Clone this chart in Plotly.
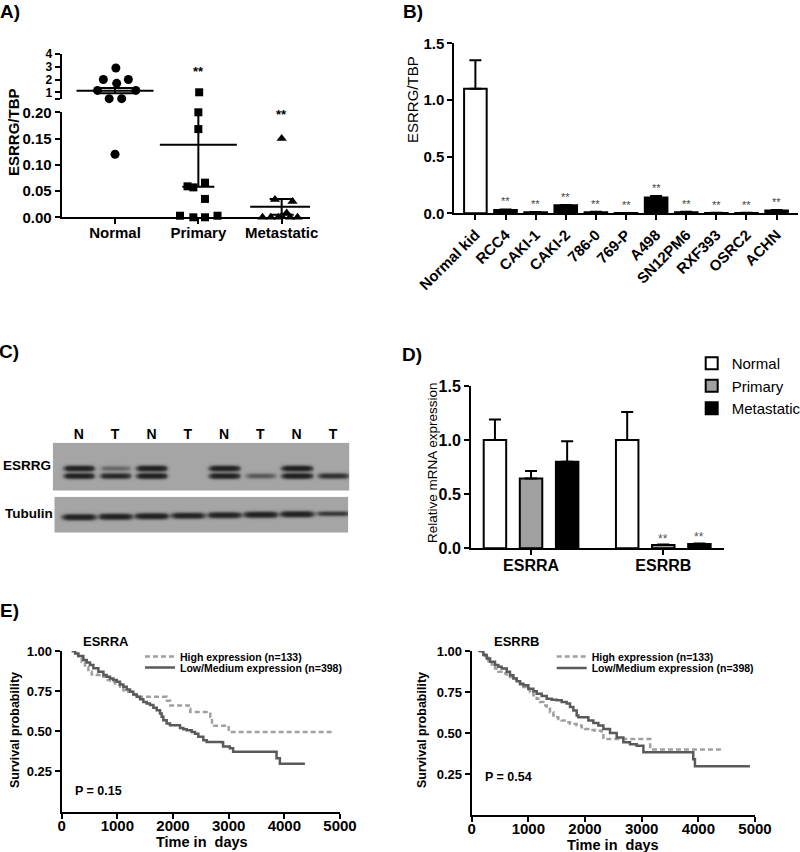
import numpy as np
import plotly.graph_objects as go

W, H = 800, 852
FONT = "Liberation Sans, Arial, sans-serif"

# ---------------- DATA ----------------
# Panel A (scatter with mean +/- SEM)
A_CATS = ["Normal", "Primary", "Metastatic"]
A_NORMAL = [2.9, 2.0, 2.0, 1.7, 1.15, 1.15, 0.5, 0.5, 0.12]
A_PRIMARY = [1.0, 0.2, 0.168, 0.059, 0.057, 0.066, 0.035, 0.003, 0.0, 0.0, 0.003]
A_METASTATIC = [0.15, 0.034, 0.03, 0.008, 0.002, 0.0, 0.0, 0.0, 0.0, 0.0]
A_MEAN = [1.13, 0.138, 0.02]
A_SEM = [0.2, 0.08, 0.015]

# Panel B (cell lines)
B_CATS = ["Normal kid", "RCC4", "CAKI-1", "CAKI-2", "786-0", "769-P", "A498",
          "SN12PM6", "RXF393", "OSRC2", "ACHN"]
B_VALUES = [1.10, 0.03, 0.01, 0.07, 0.01, 0.002, 0.14, 0.01, 0.003, 0.003, 0.025]
B_ERR = [0.25, 0.004, 0.002, 0.004, 0.003, 0.001, 0.012, 0.003, 0.001, 0.001, 0.004]

# Panel C (western blot band intensities, 0..1)
LANES = ["N", "T", "N", "T", "N", "T", "N", "T"]
ESRRG_UPPER = [0.95, 0.22, 1.0, 0.0, 0.95, 0.0, 1.0, 0.0]
ESRRG_LOWER = [0.95, 0.8, 1.0, 0.0, 0.95, 0.3, 1.0, 0.65]
TUBULIN = [0.95, 0.95, 0.95, 0.9, 0.9, 0.95, 0.95, 0.55]

# Panel D
D_GENES = ["ESRRA", "ESRRB"]
D_SERIES = ["Normal", "Primary", "Metastatic"]
D_VALUES = [[1.0, 1.0], [0.645, 0.03], [0.80, 0.04]]
D_ERR = [[0.19, 0.26], [0.07, 0.005], [0.19, 0.005]]

# Panel E (Kaplan-Meier)
KM_NAMES = ["High expression (n=133)", "Low/Medium expression (n=398)"]
EA_HIGH_T = [180, 240, 299, 359, 419, 479, 539, 629, 719, 808, 868, 958, 1048, 1108, 1168, 1257,
             1347, 1830, 1890, 1950, 2220, 2280, 2310, 2610, 2670, 2700, 2970, 3000, 4850]
EA_HIGH_S = [1.0, 0.979, 0.958, 0.933, 0.902, 0.871, 0.854, 0.85, 0.84, 0.819, 0.808, 0.79, 0.777,
             0.756, 0.746, 0.729, 0.715, 0.715, 0.69, 0.66, 0.66, 0.64, 0.62, 0.62, 0.59, 0.535,
             0.535, 0.495, 0.495]
EA_LOW_T = [180, 240, 299, 389, 449, 509, 569, 659, 749, 808, 868, 928, 988, 1048, 1108, 1168, 1228,
            1287, 1347, 1407, 1467, 1527, 1587, 1647, 1707, 1766, 1796, 1826, 1886, 1946, 2066, 2126,
            2186, 2246, 2335, 2395, 2455, 2545, 2605, 2874, 2900, 3020, 3080, 3830, 3860, 3920, 4370]
EA_LOW_S = [1.0, 0.985, 0.969, 0.944, 0.929, 0.913, 0.892, 0.871, 0.85, 0.84, 0.829, 0.819, 0.808,
            0.792, 0.777, 0.76, 0.746, 0.729, 0.715, 0.70, 0.683, 0.673, 0.663, 0.646, 0.631, 0.61,
            0.59, 0.569, 0.548, 0.538, 0.538, 0.521, 0.513, 0.506, 0.496, 0.485, 0.465, 0.444, 0.433,
            0.431, 0.405, 0.394, 0.373, 0.373, 0.332, 0.297, 0.297]
EB_HIGH_T = [118, 176, 235, 294, 353, 412, 471, 559, 618, 676, 735, 794, 853, 912, 971, 1029, 1088,
             1147, 1206, 1265, 1324, 1382, 1441, 1471, 1529, 1588, 1676, 1735, 1853, 1941, 2000, 2088,
             2176, 2294, 2324, 3118, 3150, 4440]
EB_HIGH_S = [1.0, 0.98, 0.959, 0.939, 0.918, 0.893, 0.873, 0.863, 0.857, 0.842, 0.832, 0.811, 0.795,
             0.781, 0.764, 0.75, 0.73, 0.709, 0.689, 0.668, 0.648, 0.627, 0.607, 0.596, 0.586, 0.576,
             0.566, 0.555, 0.545, 0.535, 0.525, 0.518, 0.514, 0.494, 0.463, 0.463, 0.40, 0.40]
EB_LOW_T = [118, 206, 265, 324, 412, 471, 529, 618, 676, 735, 794, 853, 912, 1000, 1088, 1147, 1235,
            1324, 1412, 1500, 1588, 1676, 1735, 1794, 1853, 1882, 2029, 2059, 2147, 2235, 2324, 2441,
            2559, 2676, 2794, 2912, 3000, 3030, 3880, 3910, 3940, 4910]
EB_LOW_S = [1.0, 0.975, 0.955, 0.934, 0.914, 0.904, 0.893, 0.873, 0.852, 0.832, 0.816, 0.80, 0.791,
            0.77, 0.754, 0.74, 0.725, 0.709, 0.703, 0.70, 0.689, 0.68, 0.658, 0.637, 0.607, 0.596,
            0.596, 0.576, 0.561, 0.545, 0.525, 0.50, 0.473, 0.443, 0.432, 0.422, 0.422, 0.382, 0.382,
            0.34, 0.297, 0.297]

# ---------------- LAYOUT HELPERS ----------------
def fx(p):
    return p / W


def fy(p):
    return 1 - p / H


BREAK = 0.2
A_Y2_MIN = 0.452
# horizontal jitter of the dot plot (category units)
JIT = [
    [0.01, -0.14, 0.16, 0.02, -0.21, 0.25, -0.07, 0.08, 0.0],
    [0.01, 0.0, 0.0, -0.13, -0.06, 0.08, 0.08, -0.22, -0.06, 0.08, 0.23],
    [0.0, -0.08, 0.13, 0.06, 0.0, -0.23, -0.13, -0.04, 0.1, 0.19],
]
A_SYMBOLS = ["circle", "square", "triangle-up"]
A_SIZES = [9, 8, 9]
A_MEANLEN = [55, 55, 45]
A_CAPW = [19, 16, 12]

fig = go.Figure()

# ---------------- PANEL A ----------------
for i, vals in enumerate([A_NORMAL, A_PRIMARY, A_METASTATIC]):
    xs = [i + j for j in JIT[i]]
    lo = [(x, v) for x, v in zip(xs, vals) if v <= BREAK]
    hi = [(x, v) for x, v in zip(xs, vals) if v > BREAK]
    for pts, ya in ((lo, "y"), (hi, "y2")):
        if not pts:
            continue
        fig.add_trace(go.Scatter(
            x=[p[0] for p in pts], y=[p[1] for p in pts], mode="markers",
            marker=dict(symbol=A_SYMBOLS[i], size=A_SIZES[i], color="black"),
            xaxis="x", yaxis=ya, showlegend=False, cliponaxis=False, hoverinfo="skip"))
    m = A_MEAN[i]
    fig.add_trace(go.Scatter(
        x=[i], y=[m], mode="markers",
        marker=dict(symbol="line-ew", size=A_MEANLEN[i], color="black",
                    line=dict(color="black", width=2)),
        error_y=dict(type="data", symmetric=False, array=[A_SEM[i]], arrayminus=[A_SEM[i]],
                     width=A_CAPW[i], thickness=2, color="black"),
        xaxis="x", yaxis="y2" if m > BREAK else "y", showlegend=False, hoverinfo="skip"))

# ---------------- PANEL B ----------------
fig.add_trace(go.Bar(
    x=list(range(len(B_CATS))), y=B_VALUES, width=0.75,
    marker=dict(color=["white"] + ["black"] * (len(B_CATS) - 1), line=dict(color="black", width=2)),
    error_y=dict(type="data", symmetric=False, array=B_ERR, arrayminus=[0] * len(B_ERR),
                 width=6, thickness=2, color="black"),
    xaxis="x2", yaxis="y3", showlegend=False, hoverinfo="skip"))

# ---------------- PANEL C (blot) ----------------
def vprof(y, c, s):
    return np.exp(-((y - c) / s) ** 2)


def hprof(x, c, w):
    return np.exp(-((x - c) / w) ** 6)


xg = np.linspace(-0.72, 7.45, 330)
yg_top = np.linspace(0, 48, 97)
z_top = np.zeros((len(yg_top), len(xg)))
for i in range(len(LANES)):
    h = hprof(xg, i, 0.40)
    z_top += ESRRG_UPPER[i] * np.outer(vprof(yg_top, 25.3, 2.4), h)
    z_top += ESRRG_LOWER[i] * np.outer(vprof(yg_top, 32.8, 2.4), h)
z_top = 1 - np.exp(-2.6 * z_top)

xg_b = np.linspace(-0.68, 7.42, 330)
yg_bot = np.linspace(0, 36, 73)
z_bot = np.zeros((len(yg_bot), len(xg_b)))
for i in range(len(LANES)):
    h = hprof(xg_b, i, 0.44)
    z_bot += TUBULIN[i] * np.outer(vprof(yg_bot, 20.0 - 0.5 * i, 2.6 * (0.6 + 0.4 * TUBULIN[i])), h)
z_bot = 1 - np.exp(-2.6 * z_bot)

BLOT_SCALE = [[0, "#a5a5a5"], [1, "#141414"]]
fig.add_trace(go.Heatmap(x=xg, y=yg_top, z=z_top, colorscale=BLOT_SCALE, zmin=0, zmax=1,
                         showscale=False, zsmooth="best", xaxis="x3", yaxis="y4", hoverinfo="skip"))
fig.add_trace(go.Heatmap(x=xg_b, y=yg_bot, z=z_bot, colorscale=BLOT_SCALE, zmin=0, zmax=1,
                         showscale=False, zsmooth="best", xaxis="x4", yaxis="y5", hoverinfo="skip"))

# ---------------- PANEL D ----------------
D_COLORS = ["white", "#a0a0a0", "black"]
D_SLOT = 0.273
D_BAR_W = 0.17
for k, name in enumerate(D_SERIES):
    fig.add_trace(go.Bar(
        x=[0, 1], y=D_VALUES[k], width=D_BAR_W, offset=(k - 1) * D_SLOT - D_BAR_W / 2,
        marker=dict(color=D_COLORS[k], line=dict(color="black", width=2)),
        error_y=dict(type="data", symmetric=False, array=D_ERR[k], arrayminus=[0, 0],
                     width=6, thickness=2, color="black"),
        name=name, legend="legend", xaxis="x5", yaxis="y6", hoverinfo="skip"))

# ---------------- PANEL E ----------------
KM_STYLE = [dict(color="#a0a0a0", width=2.5, dash="5px,3px", shape="hv"),
            dict(color="#5a5a5a", width=2.5, shape="hv")]
for (t, s, style, name, xa, ya, lg) in [
    (EA_HIGH_T, EA_HIGH_S, KM_STYLE[0], KM_NAMES[0], "x6", "y7", "legend2"),
    (EA_LOW_T, EA_LOW_S, KM_STYLE[1], KM_NAMES[1], "x6", "y7", "legend3"),
    (EB_HIGH_T, EB_HIGH_S, KM_STYLE[0], KM_NAMES[0], "x7", "y8", "legend4"),
    (EB_LOW_T, EB_LOW_S, KM_STYLE[1], KM_NAMES[1], "x7", "y8", "legend5"),
]:
    fig.add_trace(go.Scatter(x=t, y=s, mode="lines", line=style, name=name, legend=lg,
                             xaxis=xa, yaxis=ya, hoverinfo="skip"))

# ---------------- AXES ----------------
def ax(size=15, bold=True, **kw):
    d = dict(showline=True, linecolor="black", linewidth=2, ticks="outside", ticklen=5,
             tickwidth=2, tickcolor="black", showgrid=False, zeroline=False, automargin=False,
             tickfont=dict(family=FONT, size=size, color="black", weight="bold" if bold else "normal"))
    d.update(kw)
    return d


layout_axes = dict(
    # A
    xaxis=ax(15, domain=[fx(61.7), fx(310)], anchor="y", range=[-0.64, 2.34],
             tickvals=[0, 1, 2], ticktext=A_CATS, ticklabelstandoff=-4),
    yaxis=ax(15, domain=[fy(217.3), fy(112.3)], anchor="x", range=[0, 0.2],
             tickvals=[0, 0.05, 0.1, 0.15, 0.2], tickformat=".2f"),
    yaxis2=ax(12, domain=[fy(99.3), fy(54)], anchor="x", range=[A_Y2_MIN, 4],
              tickvals=[A_Y2_MIN, 1, 2, 3, 4], ticktext=["", "1", "2", "3", "4"]),
    # B
    xaxis2=ax(15, domain=[fx(454.3), fx(797.7)], anchor="y3", range=[-0.7, 10.7],
              tickvals=list(range(len(B_CATS))), ticktext=B_CATS, tickangle=-45),
    yaxis3=ax(15, domain=[fy(213.3), fy(43.3)], anchor="x2", range=[0, 1.5],
              tickvals=[0, 0.5, 1.0, 1.5], tickformat=".1f"),
    # C
    xaxis3=dict(domain=[fx(52.7), fx(349.3)], anchor="y4", range=[-0.72, 7.45], side="top",
                tickvals=list(range(len(LANES))), ticktext=LANES, showline=False, ticks="",
                showgrid=False, zeroline=False, automargin=False,
                tickfont=dict(family=FONT, size=14, color="black", weight="bold")),
    yaxis4=dict(domain=[fy(490.7), fy(442.7)], anchor="x3", range=[48, 0], visible=False),
    xaxis4=dict(domain=[fx(54.3), fx(348.3)], anchor="y5", range=[-0.68, 7.42], visible=False),
    yaxis5=dict(domain=[fy(532.7), fy(496.7)], anchor="x4", range=[36, 0], visible=False),
    # D
    xaxis5=ax(16, domain=[fx(471), fx(724)], anchor="y6", range=[-0.454, 1.459],
              tickvals=[0, 1], ticktext=D_GENES, ticklabelstandoff=-4),
    yaxis6=ax(16, domain=[fy(548.3), fy(386)], anchor="x5", range=[0, 1.5],
              tickvals=[0, 0.5, 1.0, 1.5], tickformat=".1f"),
    # E
    xaxis6=ax(15, domain=[fx(61.7), fx(340)], anchor="y7", range=[0, 5000],
              tickvals=[0, 1000, 2000, 3000, 4000, 5000], ticklabelstandoff=-6),
    yaxis7=ax(13, domain=[fy(811.5), fy(651)], anchor="x6", range=[0, 1],
              tickvals=[0.25, 0.5, 0.75, 1.0], tickformat=".2f"),
    xaxis7=ax(15, domain=[fx(471.7), fx(755)], anchor="y8", range=[0, 5000],
              tickvals=[0, 1000, 2000, 3000, 4000, 5000], ticklabelstandoff=-6),
    yaxis8=ax(13, domain=[fy(815), fy(651)], anchor="x7", range=[0, 1],
              tickvals=[0.25, 0.5, 0.75, 1.0], tickformat=".2f"),
)

# ---------------- ANNOTATIONS ----------------
ann = []


def txt(text, x, y, size, bold=True, xanchor="center", yanchor="middle", angle=0, color="black",
        xref="paper", yref="paper", yshift=0):
    ann.append(dict(text=text, x=fx(x) if xref == "paper" else x, y=fy(y) if yref == "paper" else y,
                    xref=xref, yref=yref, showarrow=False, xanchor=xanchor, yanchor=yanchor,
                    textangle=angle, yshift=yshift,
                    font=dict(family=FONT, size=size, color=color, weight="bold" if bold else "normal")))


# panel letters
for lab, x, y in [("A)", 10, 12), ("B)", 413, 12), ("C)", 9, 351), ("D)", 412, 354), ("E)", 9, 610)]:
    txt(lab, x, y, 19)

# A
txt("ESRRG/TBP", 13, 132, 15, angle=-90)
txt("**", 1, 2.62, 13, xref="x", yref="y2")
txt("**", 2, BREAK, 13, xref="x", yref="y", yshift=-2)

# B
txt("ESRRG/TBP", 412, 100, 15, bold=False, angle=-90)
for i in range(1, len(B_CATS)):
    txt("**", i, B_VALUES[i] + B_ERR[i], 11, bold=False, yanchor="bottom", color="#444444",
        xref="x2", yref="y3", yshift=0)

# C
txt("ESRRG", 1, 465.7, 13.5, xanchor="left")
txt("Tubulin", 3, 513.3, 13.5, xanchor="left")

# D
txt("Relative mRNA expression", 432, 463, 13.5, bold=False, angle=-90)
for k in (1, 2):
    txt("**", 1 + (k - 1) * D_SLOT, D_VALUES[k][1] + D_ERR[k][1], 12, bold=False,
        yanchor="bottom", color="#555555", xref="x5", yref="y6", yshift=-3)

# E
txt("ESRRA", 105.5, 641.7, 13)
txt("ESRRB", 517.3, 641.7, 13)
txt("P = 0.15", 73, 790.7, 12.5, xanchor="left")
txt("P = 0.54", 483.3, 777.3, 12.5, xanchor="left")
txt("Survival probability", 15, 730, 12.5, angle=-90)
txt("Survival probability", 422, 730, 12.5, angle=-90)
txt("Time in\u00a0 days", 201.7, 841.7, 14.5)
txt("Time in\u00a0 days", 613.3, 845, 14.5)

# ---------------- LEGENDS ----------------
def leg(x, y, size, bold):
    return dict(x=fx(x), y=fy(y), xanchor="left", yanchor="top", bgcolor="rgba(0,0,0,0)",
                borderwidth=0, tracegroupgap=0,
                font=dict(family=FONT, size=size, color="black", weight="bold" if bold else "normal"))


fig.update_layout(
    width=W, height=H, margin=dict(l=0, r=0, t=0, b=0, autoexpand=False),
    paper_bgcolor="white", plot_bgcolor="white",
    barmode="overlay", showlegend=True,
    annotations=ann,
    legend=leg(691.7, 347, 15, False),
    legend2=leg(140, 642, 10.5, True),
    legend3=leg(140, 653, 10.5, True),
    legend4=leg(551.7, 642, 10.5, True),
    legend5=leg(551.7, 653.5, 10.5, True),
    **layout_axes,
)

fig.write_html("out.html", config={"displayModeBar": False},
               post_script="document.body.style.margin='0';document.body.style.padding='0';")
